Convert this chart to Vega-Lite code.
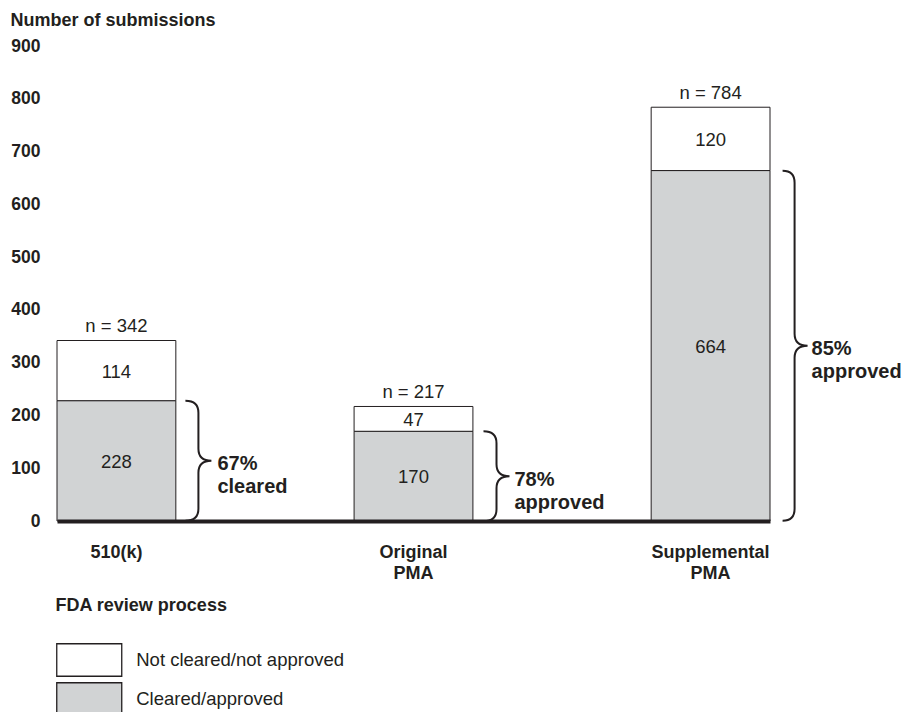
{
  "$schema": "https://vega.github.io/schema/vega-lite/v6.json",
  "width": 713,
  "height": 475,
  "autosize": {"type": "none"},
  "padding": {"left": 57, "top": 46, "right": 137, "bottom": 191},
  "background": "white",
  "config": {
    "view": {"stroke": null},
    "font": "Liberation Sans",
    "text": {"font": "Liberation Sans", "color": "#231f20"}
  },
  "datasets": {
    "segments": [
      {"process": "510(k)", "status": "Cleared/approved", "count": 228},
      {"process": "510(k)", "status": "Not cleared/not approved", "count": 114},
      {"process": "Original PMA", "status": "Cleared/approved", "count": 170},
      {"process": "Original PMA", "status": "Not cleared/not approved", "count": 47},
      {"process": "Supplemental PMA", "status": "Cleared/approved", "count": 664},
      {"process": "Supplemental PMA", "status": "Not cleared/not approved", "count": 120}
    ],
    "summary": [
      {"process": "510(k)", "total": 342, "cleared": 228, "n_label": "n = 342", "share_label": "67%\ncleared"},
      {"process": "Original PMA", "total": 217, "cleared": 170, "n_label": "n = 217", "share_label": "78%\napproved"},
      {"process": "Supplemental PMA", "total": 784, "cleared": 664, "n_label": "n = 784", "share_label": "85%\napproved"}
    ]
  },
  "layer": [
    {
      "data": {"name": "segments"},
      "mark": {"type": "bar", "stroke": "#231f20", "strokeWidth": 1},
      "encoding": {
        "x": {
          "field": "process", "type": "nominal",
          "sort": ["510(k)", "Original PMA", "Supplemental PMA"],
          "title": "FDA review process",
          "scale": {"paddingInner": 0.6, "paddingOuter": 0},
          "axis": {
            "labelAngle": 0, "labelFont": "Liberation Sans", "labelFontWeight": "bold", "labelFontSize": 18,
            "labelColor": "#231f20", "labelExpr": "split(datum.label, ' ')", "labelLineHeight": 21,
            "labelBaseline": "top", "labelPadding": 22, "ticks": false,
            "domainColor": "#231f20", "domainWidth": 4, "zindex": 1,
            "titleFont": "Liberation Sans", "titleFontSize": 18, "titleFontWeight": "bold", "titleColor": "#231f20",
            "titleX": -2, "titleY": 89, "titleAlign": "left", "titleBaseline": "alphabetic", "titleAnchor": "start"
          }
        },
        "y": {
          "field": "count", "type": "quantitative", "stack": "zero",
          "title": "Number of submissions",
          "scale": {"domain": [0, 900], "nice": false},
          "axis": {
            "grid": false, "domain": false, "ticks": false,
            "values": [0, 100, 200, 300, 400, 500, 600, 700, 800, 900],
            "labelFont": "Liberation Sans", "labelFontSize": 17.5, "labelFontWeight": "bold", "labelColor": "#231f20", "labelPadding": 17,
            "titleFont": "Liberation Sans", "titleAngle": 0, "titleX": -47, "titleY": -21, "titleAlign": "left", "titleBaseline": "alphabetic",
            "titleFontSize": 18, "titleFontWeight": "bold", "titleColor": "#231f20"
          }
        },
        "color": {
          "field": "status", "type": "nominal",
          "scale": {"domain": ["Not cleared/not approved", "Cleared/approved"], "range": ["#ffffff", "#d1d3d4"]},
          "legend": {
            "orient": "none", "legendX": 15.25, "legendY": 597, "title": null,
            "symbolType": "M-2,-1L2,-1L2,1L-2,1Z", "symbolSize": 1056,
            "symbolStrokeColor": "#231f20", "symbolStrokeWidth": 1.3, "symbolOpacity": 1,
            "labelFont": "Liberation Sans", "labelFontSize": 18.5, "labelColor": "#231f20",
            "labelOffset": 30, "rowPadding": 1, "labelLimit": 400
          }
        },
        "order": {"field": "status", "sort": "ascending"}
      }
    },
    {
      "data": {"name": "segments"},
      "mark": {"type": "text", "fontSize": 18.5, "baseline": "middle", "align": "center", "dy": 1},
      "encoding": {
        "x": {"field": "process", "type": "nominal", "sort": ["510(k)", "Original PMA", "Supplemental PMA"], "title": "FDA review process"},
        "y": {"field": "count", "type": "quantitative", "stack": "zero", "bandPosition": 0.5, "title": "Number of submissions"},
        "detail": {"field": "status"},
        "order": {"field": "status", "sort": "ascending"},
        "text": {"field": "count", "type": "quantitative"}
      }
    },
    {
      "data": {"name": "summary"},
      "mark": {"type": "text", "fontSize": 18.5, "baseline": "alphabetic", "align": "center", "dy": -8.5},
      "encoding": {
        "x": {"field": "process", "type": "nominal", "sort": ["510(k)", "Original PMA", "Supplemental PMA"], "title": "FDA review process"},
        "y": {"field": "total", "type": "quantitative", "title": "Number of submissions"},
        "text": {"field": "n_label"}
      }
    },
    {
      "data": {"name": "summary"},
      "mark": {"type": "point", "filled": false, "stroke": "#231f20", "strokeWidth": 2, "opacity": 1, "size": 4},
      "encoding": {
        "x": {"field": "process", "type": "nominal", "sort": ["510(k)", "Original PMA", "Supplemental PMA"], "title": "FDA review process"},
        "y": {"field": "cleared", "type": "quantitative", "stack": "zero", "bandPosition": 0.5, "title": "Number of submissions"},
        "shape": {
          "field": "process", "type": "nominal",
          "scale": {
            "domain": ["510(k)", "Original PMA", "Supplemental PMA"],
            "range": [
              "M69,-60C77,-60 82,-56 82,-48L82,-12C82,-4 86,0 95,0C86,0 82,4 82,12L82,48C82,56 77,60 69,60",
              "M70,-45C78,-45 83,-41 83,-33L83,-12C83,-4 87,0 96,0C87,0 83,4 83,12L83,33C83,41 78,45 70,45",
              "M72,-175C80,-175 84,-171 84,-163L84,-12C84,-4 88,0 97,0C88,0 84,4 84,12L84,163C84,171 80,175 72,175"
            ]
          },
          "legend": null
        }
      }
    },
    {
      "data": {"name": "summary"},
      "mark": {"type": "text", "fontSize": 20, "fontWeight": "bold", "baseline": "alphabetic", "align": "left", "dx": 101, "dy": 9.5, "lineBreak": "\n", "lineHeight": 23},
      "encoding": {
        "x": {"field": "process", "type": "nominal", "sort": ["510(k)", "Original PMA", "Supplemental PMA"], "title": "FDA review process"},
        "y": {"field": "cleared", "type": "quantitative", "stack": "zero", "bandPosition": 0.5, "title": "Number of submissions"},
        "text": {"field": "share_label"}
      }
    }
  ]
}
